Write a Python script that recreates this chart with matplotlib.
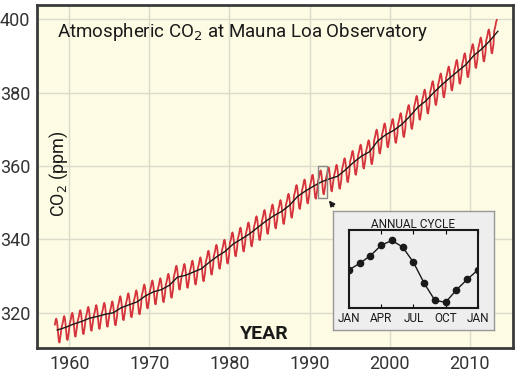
import matplotlib
matplotlib.use("Agg")
import matplotlib.pyplot as plt
from matplotlib.patches import Rectangle

# annual mean CO2 (ppm)
years = list(range(1958, 2014))
annual = [315.3, 316.0, 316.9, 317.6, 318.5, 319.0, 319.6, 320.0, 321.4, 322.2,
          323.0, 324.6, 325.7, 326.3, 327.5, 329.7, 330.2, 331.1, 332.0, 333.8,
          335.4, 336.8, 338.8, 340.1, 341.5, 343.2, 344.9, 346.4, 347.6, 349.3,
          351.7, 353.2, 354.5, 355.7, 356.5, 357.2, 359.0, 361.0, 362.7, 363.9,
          366.8, 368.5, 369.7, 371.3, 373.5, 376.0, 377.7, 380.0, 382.1, 384.0,
          385.8, 387.6, 390.1, 391.9, 394.1, 396.7]

# seasonal offsets (ppm)
months = ["JAN", "FEB", "MAR", "APR", "MAY", "JUN", "JUL", "AUG", "SEP", "OCT", "NOV", "DEC"]
cycle = [0.0, 0.7, 1.5, 2.6, 3.1, 2.4, 0.8, -1.4, -3.2, -3.4, -2.1, -1.0]
cycle_ticks = ["JAN", "APR", "JUL", "OCT", "JAN"]

first_month = 3   # record starts March 1958
last_month = 5    # ends May 2013

plt.rcParams["font.family"] = ["Roboto", "DejaVu Sans"]

fig = plt.figure(figsize=(5.24, 3.75), dpi=100)
fig.patch.set_facecolor("white")
ax = fig.add_axes([0.0706, 0.072, 0.908, 0.915])
ax.set_facecolor("#fdfbe3")

# monthly series
mx, my = [], []
for y, a in zip(years, annual):
    m0 = first_month if y == years[0] else 1
    m1 = last_month if y == years[-1] else 12
    for m in range(m0, m1 + 1):
        mx.append(y + (m - 0.5) / 12)
        my.append(a + cycle[m - 1])

ax.plot(mx, my, color="#d6343c", lw=1.3, zorder=3)
ax.plot([y + 0.5 for y in years], annual, color="#1a1a1a", lw=1.0, zorder=4)

ax.set_xlim(1955.97, 2015.37)
ax.set_ylim(310.4, 403.9)
ax.set_xticks([1960, 1970, 1980, 1990, 2000, 2010])
ax.set_yticks([320, 340, 360, 380, 400])
ax.grid(color="#dcdccc", lw=1.0)
ax.set_axisbelow(True)
ax.tick_params(length=0, pad=5, labelsize=13, labelcolor="#333333")
for s in ax.spines.values():
    s.set_color("#3a3a3a")
    s.set_linewidth(2)

ax.text(1958.5, 396.5, "Atmospheric CO$_2$ at Mauna Loa Observatory", fontsize=13.5,
        color="#1a1a1a", va="center", ha="left")
ax.text(1958.7, 358, "CO$_2$ (ppm)", fontsize=13, rotation=90, color="#1a1a1a",
        va="center", ha="center")
ax.text(1984.3, 314.3, "YEAR", fontsize=14, fontweight="bold", color="#1a1a1a",
        va="center", ha="center")

# box around the enlarged year
ax.add_patch(Rectangle((1991.1, 351.3), 1.1, 8.7, fill=False, edgecolor="#888888",
                       lw=1.0, zorder=5))
ax.annotate("", xy=(1992.2, 351.2), xytext=(1993.2, 348.4),
            arrowprops=dict(arrowstyle="-|>", color="#1a1a1a", lw=1.2,
                            mutation_scale=8))

# inset panel
box = fig.add_axes([0.6355, 0.12, 0.307, 0.317])
box.set_facecolor("#eeeeee")
box.set_xticks([])
box.set_yticks([])
for s in box.spines.values():
    s.set_color("#999999")
    s.set_linewidth(1.0)

ins = fig.add_axes([0.666, 0.1787, 0.246, 0.208])
ins.set_facecolor("#eeeeee")
cx = list(range(13))
cy = cycle + [cycle[0]]
ins.plot(cx, cy, color="#1a1a1a", lw=1.0, marker="o", markersize=4.5)
ins.set_xlim(0, 12)
ins.set_ylim(-4.0, 4.2)
ins.set_xticks([0, 3, 6, 9, 12])
ins.set_xticklabels(cycle_ticks)
ins.set_yticks([])
ins.tick_params(axis="x", direction="in", length=3, top=True, pad=3,
                labelsize=8.5, labelcolor="#1a1a1a")
for s in ins.spines.values():
    s.set_color("#1a1a1a")
    s.set_linewidth(1.5)
ins.set_title("ANNUAL CYCLE", fontsize=8.5, pad=1.5, color="#1a1a1a")

fig.savefig("out.png", dpi=100)
